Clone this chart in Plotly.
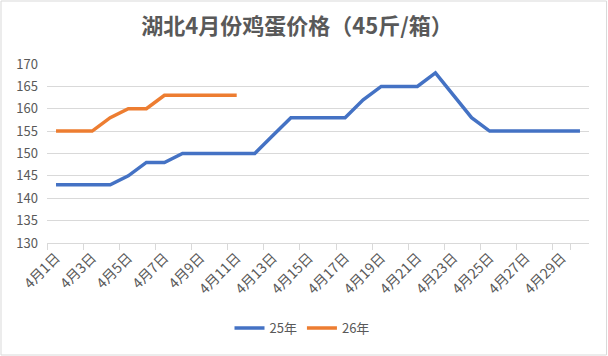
import plotly.graph_objects as go

days = [f"4月{d}日" for d in range(1, 31)]
series_25 = [143, 143, 143, 143, 145, 148, 148, 150, 150, 150, 150, 150, 154, 158, 158,
             158, 158, 162, 165, 165, 165, 168, 163, 158, 155, 155, 155, 155, 155, 155]
series_26 = [155, 155, 155, 158, 160, 160, 163, 163, 163, 163, 163]
label_days = days[::2]

W, H = 608, 356
ml, mr, mt, mb = 47, 19, 64, 113
pw, ph = W - ml - mr, H - mt - mb

fig = go.Figure()
fig.add_trace(go.Scatter(x=days, y=series_25, name="25年", mode="lines",
                         line=dict(color="#4472C4", width=3.5)))
fig.add_trace(go.Scatter(x=days[:len(series_26)], y=series_26, name="26年", mode="lines",
                         line=dict(color="#ED7D31", width=3.5)))

font_family = "Noto Sans CJK SC, Noto Sans, sans-serif"
fig.update_layout(
    width=W, height=H,
    margin=dict(l=ml, r=mr, t=mt, b=mb, autoexpand=False),
    paper_bgcolor="white", plot_bgcolor="white",
    font=dict(family=font_family, color="#595959", size=12),
    title=dict(text="<b>湖北4月份鸡蛋价格（45斤/箱）</b>", x=297 / W, xanchor="center",
               y=1 - 26 / H, yanchor="middle", yref="container",
               font=dict(size=22, color="#595959", family=font_family)),
    showlegend=True,
    legend=dict(orientation="h", x=(302 - ml) / pw, xanchor="center",
                y=-(328 - (H - mb)) / ph, yanchor="middle",
                font=dict(size=13, color="#595959"), itemwidth=30, tracegroupgap=0),
    shapes=[dict(type="rect", xref="paper", yref="paper",
                 x0=(1 - ml) / pw, x1=(W - 1.5 - ml) / pw,
                 y0=(1 - mb) / ph, y1=(H - 1 - mb) / ph,
                 line=dict(color="#D9D9D9", width=1), fillcolor="rgba(0,0,0,0)", layer="below")],
)
fig.update_xaxes(type="category", categoryorder="array", categoryarray=days,
                 range=[-0.5, 29.5], tickvals=label_days, tickson="boundaries",
                 tickangle=-45, ticks="outside", ticklen=6, tickcolor="#D9D9D9",
                 showline=True, linecolor="#D9D9D9", linewidth=1, showgrid=False,
                 automargin=False, tickfont=dict(size=14, color="#595959"))
fig.update_yaxes(range=[130, 170], dtick=5, showgrid=True, gridcolor="#D9D9D9", gridwidth=1,
                 zeroline=False, showline=False, ticks="", ticklabelstandoff=8,
                 automargin=False, tickfont=dict(size=13, color="#595959"))

fig.write_html("out.html", config={"displayModeBar": False},
               post_script="document.body.style.margin='0';document.body.style.overflow='hidden';")
